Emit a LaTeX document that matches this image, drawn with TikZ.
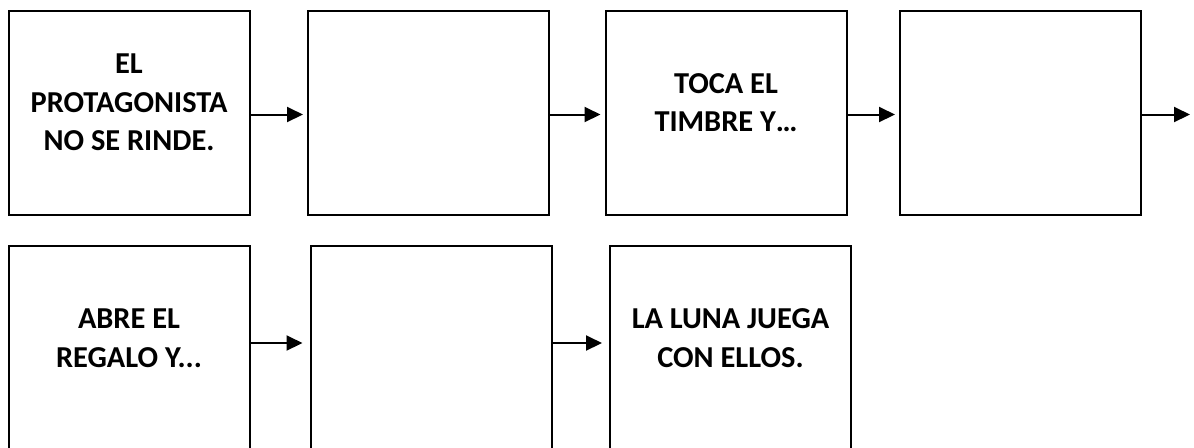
\documentclass[tikz,border=0pt]{standalone}
\usepackage{fontspec}
\setmainfont{Carlito}
\usetikzlibrary{arrows.meta}
\tikzset{
  storybox/.style={draw, line width=1pt, minimum width=120.5pt, minimum height=102pt, inner sep=0pt},
  storytext/.style={font=\fontsize{15.2}{19.25}\selectfont\bfseries, align=center, yshift=5pt},
  flow/.style={line width=1pt, shorten >=2pt, -{Triangle[length=8pt,width=7.5pt]}}
}
\begin{document}
\begin{tikzpicture}[x=0.5pt,y=-0.5pt]
    \useasboundingbox (0,0) rectangle (1194,447);
    % first row
    \node[storybox, label={[storytext]center:{EL\\PROTAGONISTA\\NO SE RINDE.}}] (b1) at (129,112.5) {};
    \node[storybox] (b2) at (428.5,112.5) {};
    \node[storybox, label={[storytext]center:{TOCA EL\\TIMBRE Y…}}] (b3) at (726,112.5) {};
    \node[storybox] (b4) at (1020.5,112.5) {};
    \coordinate (next) at (1190,112.5);
    \draw[flow] ([yshift=-1pt]b1.east) -- ([yshift=-1pt]b2.west);
    \draw[flow] ([yshift=-1pt]b2.east) -- ([yshift=-1pt]b3.west);
    \draw[flow] ([yshift=-1pt]b3.east) -- ([yshift=-1pt]b4.west);
    \draw[flow, shorten >=0pt] ([yshift=-1pt]b4.east) -- ([yshift=-1pt]next);
    % second row
    \node[storybox, label={[storytext]center:{ABRE EL\\REGALO Y...}}] (b5) at (129,348) {};
    \node[storybox] (b6) at (431,348) {};
    \node[storybox, label={[storytext]center:{LA LUNA JUEGA\\CON ELLOS.}}] (b7) at (730.5,348) {};
    \draw[flow, shorten >=3.5pt] ([yshift=2.5pt]b5.east) -- ([yshift=2.5pt]b6.west);
    \draw[flow, shorten >=3.5pt] ([yshift=2.5pt]b6.east) -- ([yshift=2.5pt]b7.west);
\end{tikzpicture}
\end{document}
